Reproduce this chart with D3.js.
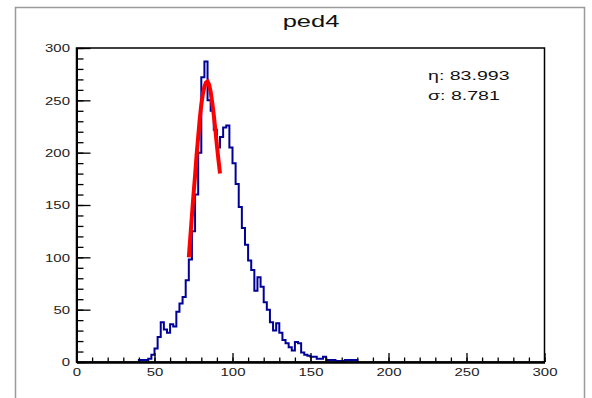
<!DOCTYPE html>
<html>
<head>
<meta charset="utf-8">
<script src="https://cdn.jsdelivr.net/npm/d3@7"></script>
<style>
  body { margin: 0; background: #fff; }
  svg { display: block; font-family: "Liberation Sans", Arial, sans-serif; }
</style>
</head>
<body>
<div id="chart"></div>
<script>
// histogram "ped4": bins of width 2, starting at binStarts[i]
const binStarts = d3.range(40, 180, 2);
const counts = [2, 2, 2, 3, 7, 13, 24, 38, 31, 28, 36, 34, 48, 56, 62, 78, 98, 125, 160, 200,
  272, 287, 250, 240, 222, 205, 215, 224, 226, 205, 190, 170, 148, 128, 112, 97, 88, 68, 81, 72,
  57, 50, 38, 30, 37, 28, 21, 18, 14, 11, 19, 18, 9, 7, 6, 5, 5, 3, 3, 5,
  2, 2, 2, 1, 1, 1, 2, 2, 2, 2];
const binWidth = 2;

// gaussian fit curve as drawn (x, y)
const fitX = d3.range(72, 93, 1);
const fitY = [100, 120, 140, 160, 178, 198, 215, 232, 246, 256, 263, 267, 268, 265, 258, 248, 236, 222, 207, 193, 180];

const xTicks = [0, 50, 100, 150, 200, 250, 300];
const yTicks = [0, 50, 100, 150, 200, 250, 300];
const title = 'ped4';
const statLines = ['η: 83.993', 'σ: 8.781'];

const width = 592, height = 398;
const x = d3.scaleLinear().domain([0, 300]).range([76.5, 544.5]);
const y = d3.scaleLinear().domain([0, 300]).range([362, 48]);

const svg = d3.select('#chart').append('svg')
  .attr('width', width)
  .attr('height', height);

// pad border
svg.append('rect')
  .attr('x', 15.5).attr('y', 7.5)
  .attr('width', 569).attr('height', 400)
  .attr('fill', 'none')
  .attr('stroke', '#9a9a9a')
  .attr('stroke-width', 1.5);

// frame
svg.append('rect')
  .attr('x', x(0)).attr('y', y(300))
  .attr('width', x(300) - x(0)).attr('height', y(0) - y(300))
  .attr('fill', 'none')
  .attr('stroke', '#000')
  .attr('stroke-width', 1.5);

// histogram outline
const pts = [[binStarts[0], 0]];
binStarts.forEach((b, i) => pts.push([b, counts[i]]));
pts.push([binStarts[binStarts.length - 1] + binWidth, counts[counts.length - 1]]);
pts.push([binStarts[binStarts.length - 1] + binWidth, 0]);

const stepLine = d3.line()
  .x(d => x(d[0]))
  .y(d => y(d[1]))
  .curve(d3.curveStepAfter);

svg.append('path')
  .datum(pts)
  .attr('d', stepLine)
  .attr('fill', 'none')
  .attr('stroke', '#000099')
  .attr('stroke-width', 2);

// fit
const fitLine = d3.line()
  .x((d, i) => x(fitX[i]))
  .y(d => y(d));

svg.append('path')
  .datum(fitY)
  .attr('d', fitLine)
  .attr('fill', 'none')
  .attr('stroke', '#ff0000')
  .attr('stroke-width', 4);

// axes
const sx = 1.3;
const xMinor = svg.append('g')
  .attr('transform', `translate(0,${y(0)})`)
  .call(d3.axisBottom(x).tickValues(d3.range(0, 301, 10)).tickSize(-4.5).tickSizeOuter(0).tickFormat(''));
const xAxis = svg.append('g')
  .attr('transform', `translate(0,${y(0)})`)
  .call(d3.axisBottom(x).tickValues(xTicks).tickSize(-9).tickSizeOuter(0).tickPadding(6));

const yMinor = svg.append('g')
  .attr('transform', `translate(${x(0)},0)`)
  .call(d3.axisLeft(y).tickValues(d3.range(0, 301, 10)).tickSize(-7).tickSizeOuter(0).tickFormat(''));
const yAxis = svg.append('g')
  .attr('transform', `translate(${x(0)},0)`)
  .call(d3.axisLeft(y).tickValues(yTicks).tickSize(-14).tickSizeOuter(0).tickPadding(5));

[xMinor, xAxis, yMinor, yAxis].forEach(g => {
  g.select('.domain').attr('stroke', '#000').attr('stroke-width', 2);
  g.selectAll('.tick line').attr('stroke', '#000').attr('stroke-width', 1.3);
});

xAxis.selectAll('text')
  .attr('font-size', 11.5)
  .attr('fill', '#222')
  .attr('transform', `scale(${sx},1)`);
yAxis.selectAll('text')
  .attr('font-size', 11.5)
  .attr('fill', '#222')
  .attr('transform', `scale(${sx},1)`);

// title
svg.append('text')
  .attr('transform', `translate(311,27) scale(1.5,1)`)
  .attr('text-anchor', 'middle')
  .attr('font-size', 17)
  .attr('fill', '#111')
  .text(title);

// stats
svg.selectAll('.stat')
  .data(statLines)
  .join('text')
  .attr('class', 'stat')
  .attr('transform', (d, i) => `translate(428,${80 + i * 20}) scale(1.45,1)`)
  .attr('font-size', 13.5)
  .attr('fill', '#111')
  .text(d => d);
</script>
</body>
</html>
